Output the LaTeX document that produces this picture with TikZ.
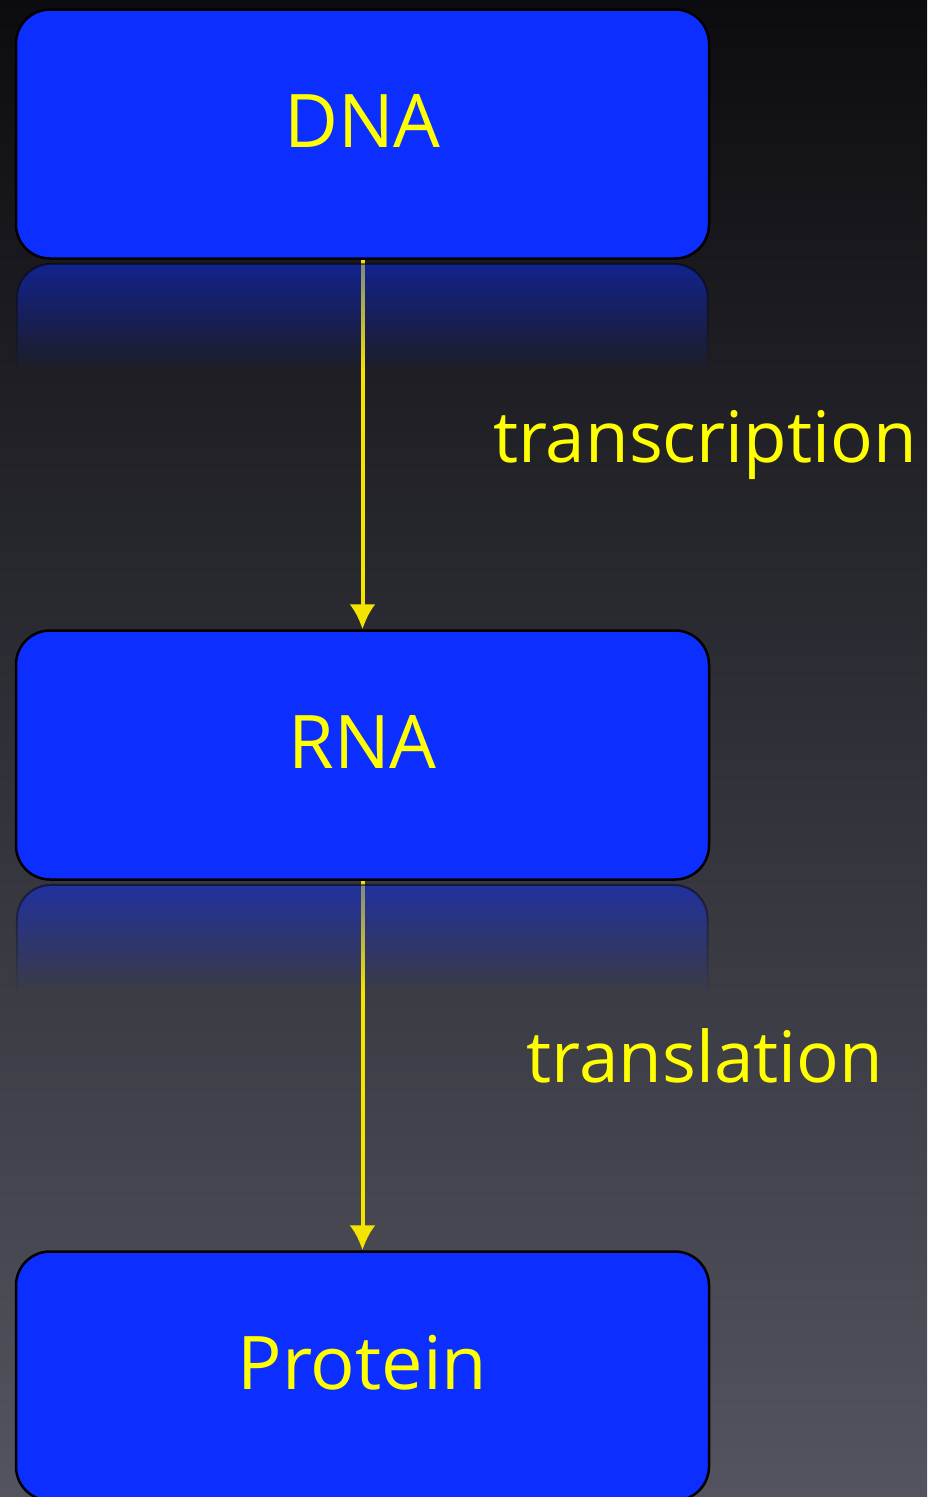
\documentclass[tikz,border=0pt]{standalone}
\usepackage{fontspec}
\setmainfont{Open Sans}
\usetikzlibrary{arrows.meta,fadings}
\definecolor{boxblue}{RGB}{12,46,255}
\definecolor{bgtop}{RGB}{12,12,16}
\definecolor{bgbot}{RGB}{84,84,96}
\definecolor{labyellow}{RGB}{255,255,0}
\definecolor{arryellow}{RGB}{245,228,0}
\tikzfading[name=reflfade, top color=transparent!50, bottom color=transparent!100]
\tikzset{
  stagebox/.style={draw=black, line width=2.5pt, fill=boxblue, rounded corners=34pt,
    minimum width=693pt, minimum height=249pt, inner sep=0pt},
  boxlabel/.style={text=labyellow, font=\fontsize{74}{88}\selectfont, inner sep=0pt},
  steplabel/.style={text=labyellow, font=\fontsize{71}{85}\selectfont, inner sep=0pt, anchor=base},
  flow/.style={draw=arryellow, line width=4pt, -{Latex[length=25pt,width=26pt]}},
  refl/.style={fill=boxblue, draw=black, line width=2pt, path fading=reflfade}
}
\begin{document}
\begin{tikzpicture}[x=1pt,y=-1pt]
\shade[top color=bgtop, bottom color=bgbot] (0,0) rectangle (927,1497);
\useasboundingbox (0,0) rectangle (927,1497);
% boxes
\node[stagebox] (dna) at (362.5,134) {};
\node[stagebox] (rna) at (362.5,755) {};
\node[stagebox] (protein) at (362.5,1376) {};
\node[boxlabel] (dnal) at (362.5,121) {DNA};
\node[boxlabel] (rnal) at (362.5,742) {RNA};
\node[boxlabel] (proteinl) at (362.5,1363) {Protein};
% arrows
\draw[flow] (dna.south) -- (rna.north);
\draw[flow] (rna.south) -- (protein.north);
% reflections
\path[refl, rounded corners=34pt] (17,370) -- (17,264) -- (708,264) -- (708,370);
\path[refl, rounded corners=34pt] (17,991) -- (17,885) -- (708,885) -- (708,991);
% step labels
\node[steplabel] (tr) at (705,462) {transcription};
\node[steplabel] (tl) at (705,1082) {translation};
\end{tikzpicture}
\end{document}
